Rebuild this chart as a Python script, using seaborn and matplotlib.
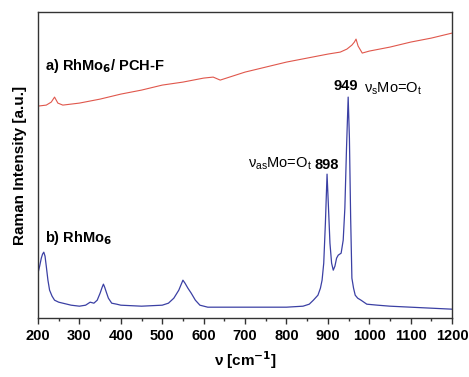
import matplotlib
matplotlib.use("Agg")
import matplotlib.pyplot as plt
from matplotlib.ticker import MultipleLocator
import seaborn as sns

# wavenumber [cm-1] and intensity (arbitrary units)
wn_a = [200, 220, 232, 240, 248, 260, 300, 350, 400, 450, 500, 550, 600, 623, 640,
        700, 750, 800, 850, 900, 930, 946, 958, 964, 968, 973, 983, 1000, 1050, 1100, 1150, 1200]
int_a = [212, 213, 216, 221, 215, 213, 215, 219, 224, 228, 233, 236, 240, 241, 238,
         246, 251, 256, 260, 264, 266, 269, 273, 276, 279, 272, 265, 267, 271, 276, 280, 285]

wn_b = [200, 204, 208, 211, 214, 217, 220, 224, 228, 234, 240, 250, 260, 280, 300,
        315, 326, 335, 343, 350, 355, 358, 361, 365, 370, 378, 390,
        400, 450, 500, 515, 528, 540, 546, 550, 555, 562, 570, 580, 591, 610,
        700, 800, 840, 855, 865, 876, 882, 886, 890, 894, 898, 901, 905, 909, 913,
        917, 921, 925, 932, 937, 941, 945, 949, 952, 955, 958, 962, 966, 972, 980,
        994, 1020, 1050, 1100, 1150, 1200]
int_b = [45, 52, 60, 64, 66, 62, 52, 38, 28, 22, 18, 16, 15, 13, 12,
         13, 16, 15, 18, 25, 31, 34, 31, 26, 20, 15, 14,
         13, 12, 13, 15, 20, 28, 34, 38, 35, 30, 25, 18, 13, 11,
         11, 11, 12, 14, 18, 23, 30, 38, 55, 95, 144, 115, 75, 55, 48,
         52, 60, 63, 65, 78, 110, 170, 221, 180, 100, 40, 30, 23, 20, 18,
         14, 13, 12, 11, 10, 9]

xticks = [200, 300, 400, 500, 600, 700, 800, 900, 1000, 1100, 1200]

sns.set_style("ticks")
plt.rcParams["font.family"] = ["Liberation Sans", "DejaVu Sans"]
plt.rcParams["text.color"] = "black"
plt.rcParams["axes.labelcolor"] = "black"
plt.rcParams["xtick.color"] = "#333333"
plt.rcParams["xtick.labelcolor"] = "black"

fig = plt.figure(figsize=(4.69, 3.77), dpi=100)
ax = fig.add_axes([0.081, 0.156, 0.883, 0.812])

sns.lineplot(x=wn_a, y=int_a, ax=ax, color="#e0574c", linewidth=0.8)
sns.lineplot(x=wn_b, y=int_b, ax=ax, color="#3b40a4", linewidth=0.9)

ax.set_xlim(200, 1200)
ax.set_ylim(0, 306)
ax.set_xticks(xticks)
ax.xaxis.set_minor_locator(MultipleLocator(50))
ax.set_yticks([])
ax.tick_params(axis="x", which="major", length=4, width=1, direction="out", labelsize=10.5)
ax.tick_params(axis="x", which="minor", length=2.5, width=1, direction="out")
for lab in ax.get_xticklabels():
    lab.set_fontweight("bold")
for s in ax.spines.values():
    s.set_linewidth(1)
    s.set_color("#333333")

ax.set_ylabel("Raman Intensity [a.u.]", fontsize=11, fontweight="bold", labelpad=8)
ax.set_xlabel(r"$\mathregular{\nu}$ [cm$^\mathbf{-1}$]", fontsize=11, fontweight="bold", labelpad=5)

ax.text(0.018, 0.81, r"a) RhMo$_\mathbf{6}$/ PCH-F", transform=ax.transAxes,
        fontsize=10.5, fontweight="bold")
ax.text(0.018, 0.25, r"b) RhMo$_\mathbf{6}$", transform=ax.transAxes,
        fontsize=10.5, fontweight="bold")
ax.text(897, 146, "898", ha="center", va="bottom", fontsize=10.5, fontweight="bold")
ax.text(943, 225, "949", ha="center", va="bottom", fontsize=10.5, fontweight="bold")
ax.text(988, 221, r"$\mathregular{\nu_s}$Mo=O$_\mathregular{t}$", ha="left", va="bottom", fontsize=10.5)
ax.text(862, 146, r"$\mathregular{\nu_{as}}$Mo=O$_\mathregular{t}$", ha="right", va="bottom", fontsize=10.5)

fig.savefig("out.png", dpi=100)
